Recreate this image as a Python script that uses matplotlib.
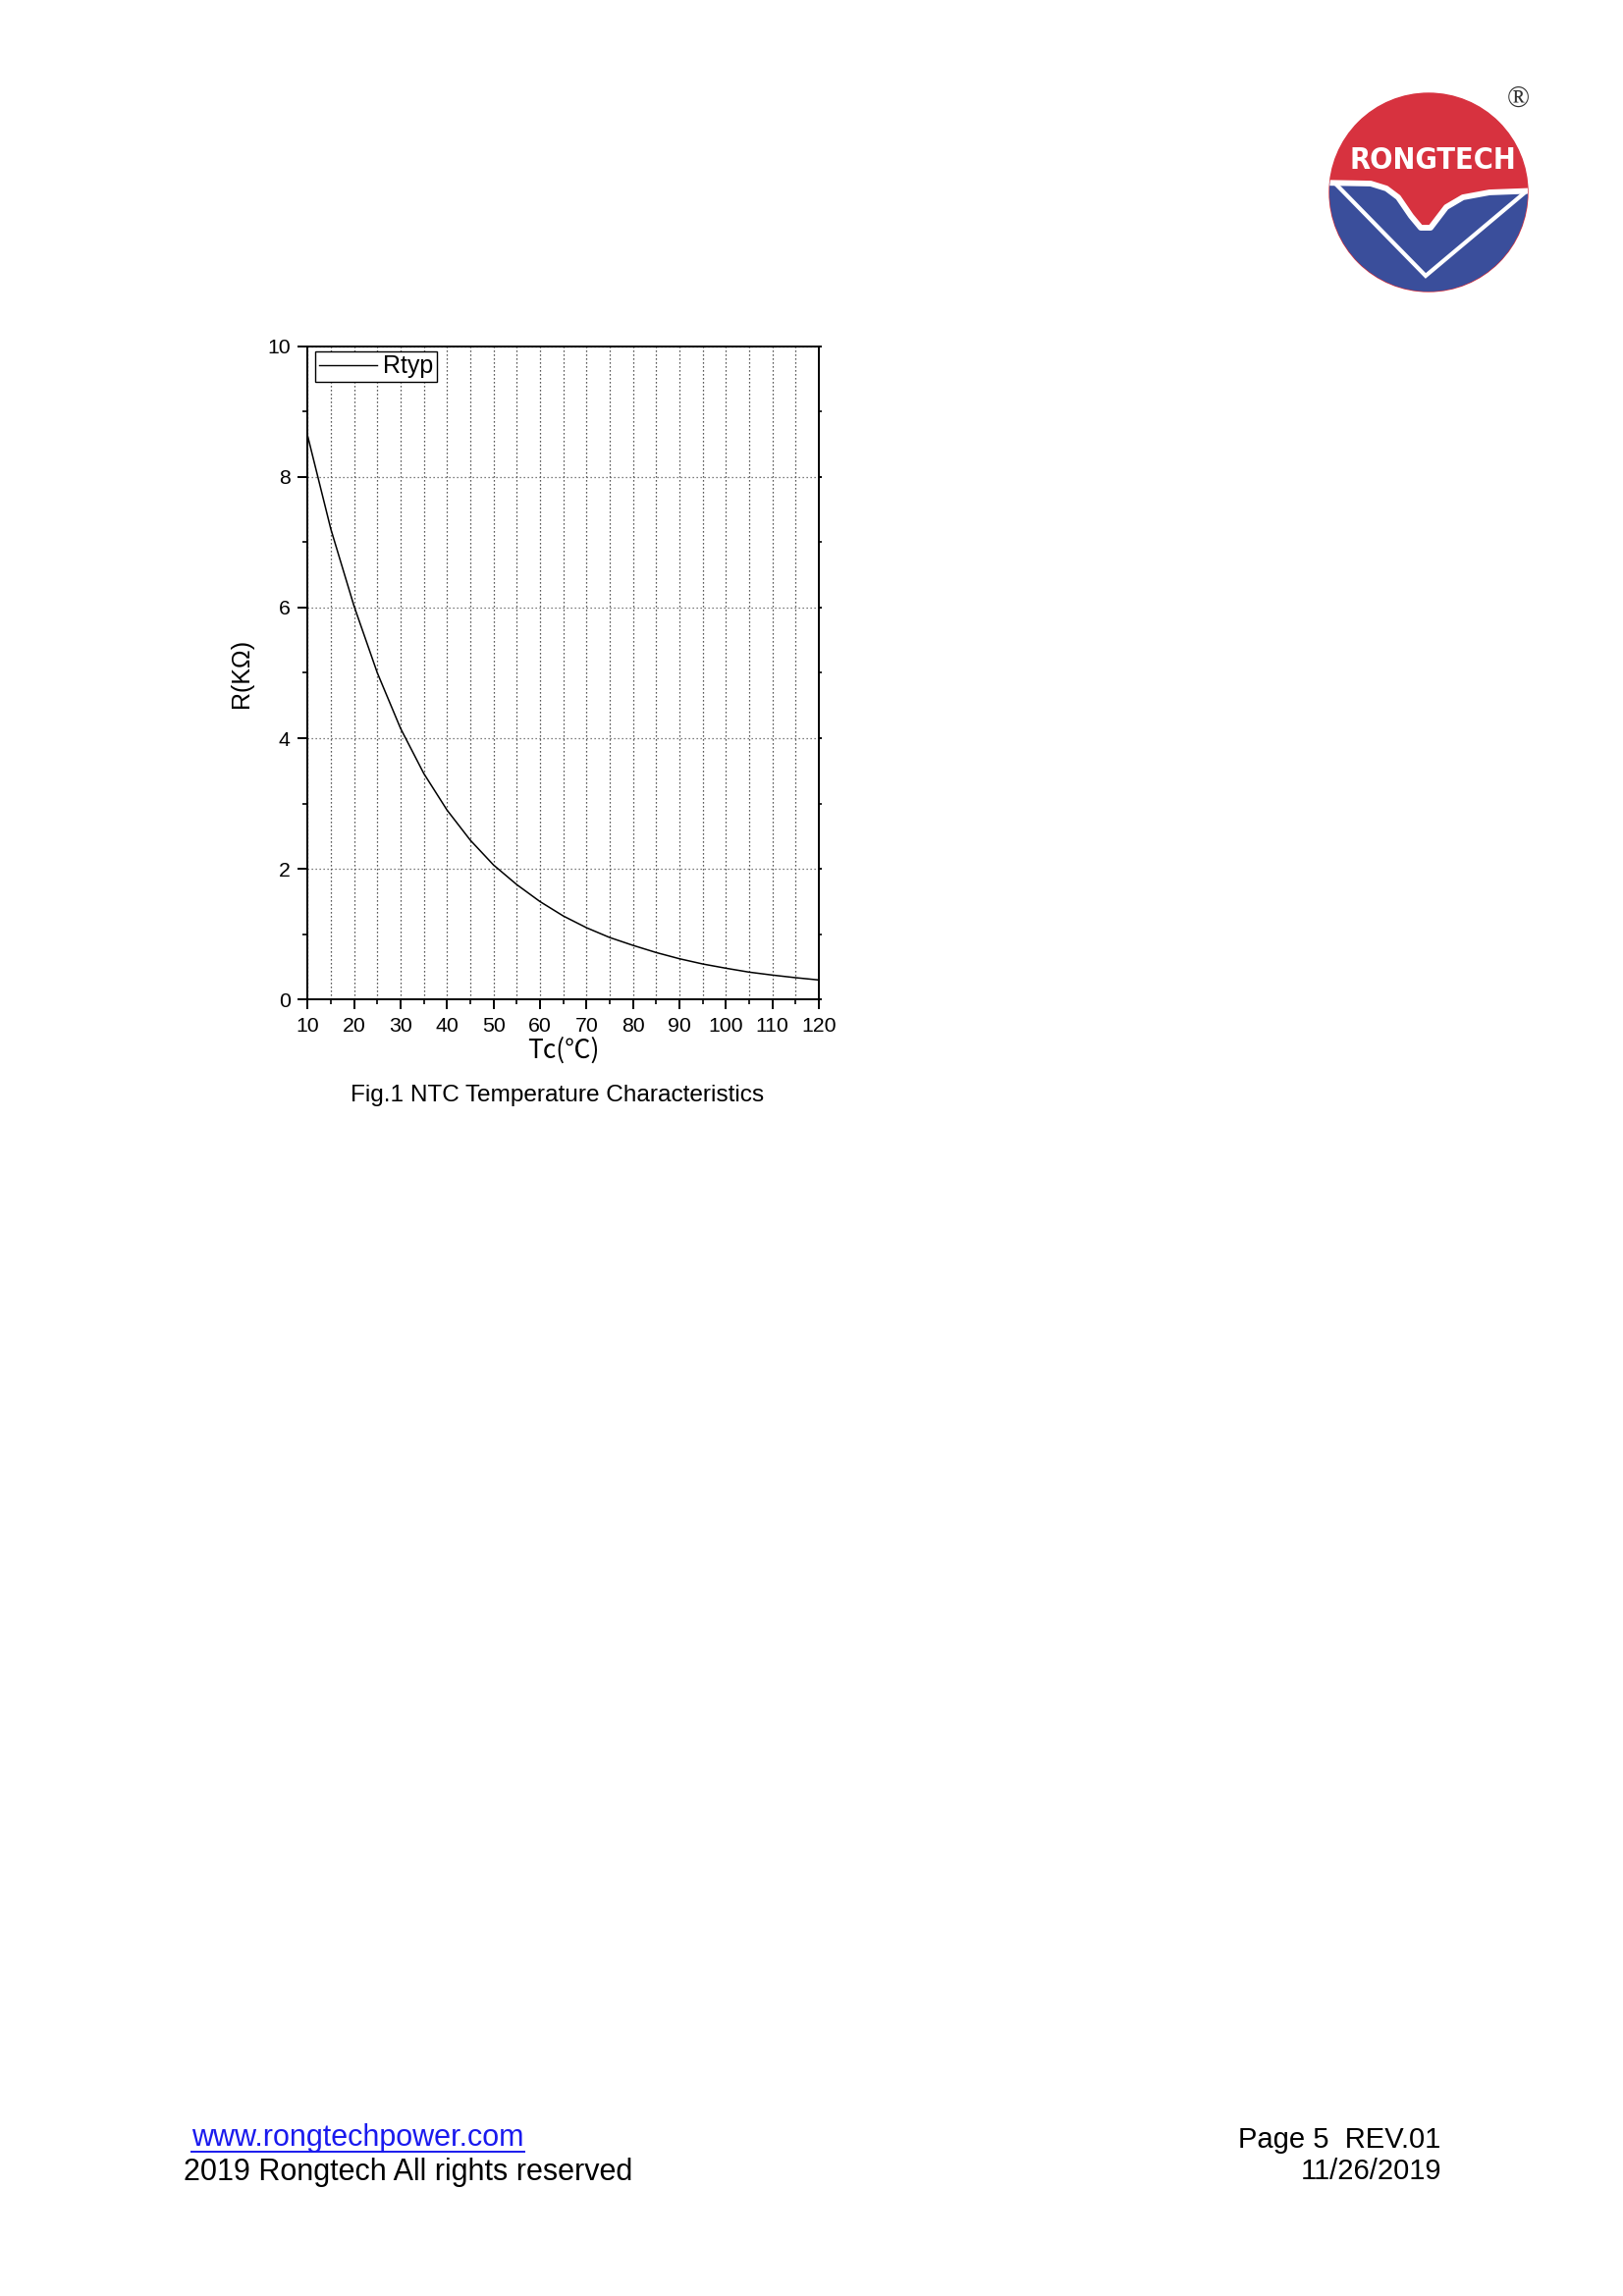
import matplotlib
matplotlib.use("Agg")
import matplotlib.pyplot as plt
from matplotlib.patches import Circle, Polygon
from matplotlib.lines import Line2D
from matplotlib.ticker import MultipleLocator

# NTC curve
temps = [10, 15, 20, 25, 30, 35, 40, 45, 50, 55, 60, 65,
         70, 75, 80, 85, 90, 95, 100, 105, 110, 115, 120]
r_typ = [8.63, 7.20, 6.02, 5.00, 4.15, 3.46, 2.90, 2.44, 2.06, 1.76, 1.50, 1.28,
         1.10, 0.95, 0.83, 0.72, 0.625, 0.545, 0.48, 0.42, 0.375, 0.335, 0.30]
x_ticks = [10, 20, 30, 40, 50, 60, 70, 80, 90, 100, 110, 120]
y_ticks = [0, 2, 4, 6, 8, 10]

W, H = 1653, 2339
fig = plt.figure(figsize=(W / 100, H / 100), dpi=100)
fig.patch.set_facecolor("white")

SANS = ["Liberation Sans", "DejaVu Sans"]
CJK = ["Noto Sans CJK SC", "DejaVu Sans"]

# main chart, placed in page pixels
L, R, T, B = 313.3, 834, 352.7, 1018.3
ax = fig.add_axes([L / W, 1 - B / H, (R - L) / W, (B - T) / H])
ax.plot(temps, r_typ, color="black", lw=1.1, label="Rtyp", zorder=3)
ax.set_xlim(10, 120)
ax.set_ylim(0, 10)
ax.set_xticks(x_ticks)
ax.set_yticks(y_ticks)
ax.xaxis.set_minor_locator(MultipleLocator(5))
ax.yaxis.set_minor_locator(MultipleLocator(1))

for s in ax.spines.values():
    s.set_linewidth(1.4)
ax.tick_params(which="major", direction="out", length=7.2, width=1.4,
               labelsize=15.3, pad=5.5)
ax.tick_params(which="minor", direction="out", length=3.6, width=1.2)
ax.tick_params(axis="y", which="both", right=True)
for lab in ax.get_xticklabels() + ax.get_yticklabels():
    lab.set_family(SANS)
# right side ticks are short
for t in ax.yaxis.get_major_ticks() + ax.yaxis.get_minor_ticks():
    t.tick2line.set_markersize(2.5)

ax.grid(True, axis="x", which="both", color="#222222", lw=0.9, ls=(0, (1, 2.2)))
ax.grid(True, axis="y", which="major", color="#555555", lw=0.9, ls=(0, (1, 2.2)))

ax.set_xlabel("Tc(℃)", family=CJK, fontsize=19, labelpad=1)
ax.set_ylabel("R(KΩ)", family=SANS, fontsize=18, labelpad=10)

leg = ax.legend(loc="upper left", bbox_to_anchor=(0.0148, 0.9925), borderaxespad=0,
                fancybox=False, framealpha=1, edgecolor="black",
                prop={"family": SANS, "size": 18}, handlelength=2.35,
                handletextpad=0.25, borderpad=0.15)
leg.get_frame().set_linewidth(1.0)
for h in leg.get_lines():
    h.set_linewidth(1.0)

fig.text(567.5 / W, 1 - 1116 / H, "Fig.1 NTC Temperature Characteristics",
         family=SANS, fontsize=17.6, ha="center", va="center")

# logo in page pixel coordinates
lg = fig.add_axes([1330 / W, 1 - 320 / H, 260 / W, 260 / H])
lg.set_xlim(1330, 1590)
lg.set_ylim(320, 60)
lg.set_aspect("equal")
lg.axis("off")
cx, cy, rad = 1455, 196, 101
red = Circle((cx, cy), rad, color="#d7323f")
lg.add_patch(red)
clip = Circle((cx, cy), rad, transform=lg.transData)
wave = [(1340, 186), (1396, 187), (1412, 192), (1424, 201), (1437, 220),
        (1447, 232), (1457, 232), (1473, 211), (1490, 201), (1517, 196), (1570, 194)]
blue = Polygon(wave + [(1600, 194), (1600, 330), (1310, 330), (1310, 186)],
               closed=True, color="#3a4e9b")
lg.add_patch(blue)
blue.set_clip_path(clip)
wl = lg.plot([p[0] for p in wave], [p[1] for p in wave], color="white", lw=4.2,
             solid_joinstyle="round")[0]
wl.set_clip_path(clip)
vx = [1362, 1452, 1552]
vy = [189, 281, 197]
vl = lg.plot(vx, vy, color="white", lw=3.0, solid_joinstyle="miter")[0]
vl.set_clip_path(clip)
lg.text(1459, 164, "RONGTECH", color="white", fontsize=22, fontweight="bold",
        family=["DejaVu Sans"], fontstretch="condensed", ha="center", va="center")
lg.text(1546, 101, "®", color="#333333", fontsize=22, family=["Liberation Serif", "DejaVu Serif"],
        ha="center", va="center")

# footer
url = fig.text(195 / W, 1 - 2178 / H, "www.rongtechpower.com", color="#1a1aee",
               family=SANS, fontsize=22, ha="left", va="center")
fig.text(187 / W, 1 - 2212.5 / H, "2019 Rongtech All rights reserved",
         family=SANS, fontsize=22, ha="left", va="center")
fig.text(1467 / W, 1 - 2180 / H, "Page 5  REV.01",
         family=SANS, fontsize=21, ha="right", va="center")
fig.text(1468 / W, 1 - 2212 / H, "11/26/2019",
         family=SANS, fontsize=21, ha="right", va="center")

fig.canvas.draw()
bb = url.get_window_extent()
uy = 1 - 2192 / H
fig.add_artist(Line2D([bb.x0 / W, bb.x1 / W], [uy, uy], color="#1a1aee", lw=1.4,
                      transform=fig.transFigure))

fig.savefig("out.png", dpi=100, facecolor="white")
